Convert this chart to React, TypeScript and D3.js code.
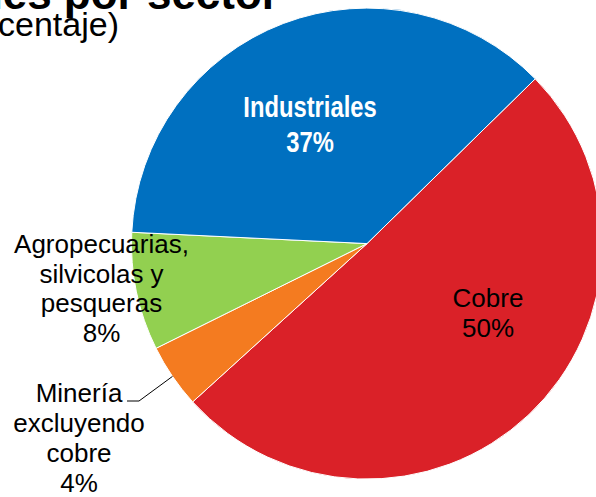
import { useEffect, useRef } from "react";
import * as d3 from "d3";

const sectors = ["Cobre", "Minería excluyendo cobre", "Agropecuarias, silvicolas y pesqueras", "Industriales"];
const shares = [50.6, 4.4, 8.1, 36.9];
const shareLabels = ["50%", "4%", "8%", "37%"];
const colors = ["#DA2128", "#F47B20", "#92D050", "#0070C0"];

export default function App() {
  const ref = useRef<SVGSVGElement>(null);

  useEffect(() => {
    const svg = d3.select(ref.current);
    svg.selectAll("*").remove();

    const width = 596;
    const height = 497;
    const cx = 367;
    const cy = 243.6;
    const r = 235.5;
    const font = "Liberation Sans, Arial, sans-serif";

    svg.attr("width", width).attr("height", height);

    const data = sectors.map((s, i) => ({ sector: s, value: shares[i], label: shareLabels[i], color: colors[i] }));

    const start = (45.6 * Math.PI) / 180;
    const pie = d3.pie<any>()
      .value(d => d.value)
      .sort(null)
      .startAngle(start)
      .endAngle(start + 2 * Math.PI);

    const arc = d3.arc<any>().innerRadius(0).outerRadius(r);
    const arcs = pie(data);

    const g = svg.append("g").attr("transform", `translate(${cx},${cy})`);

    g.selectAll("path")
      .data(arcs)
      .join("path")
      .attr("d", arc)
      .attr("fill", d => d.data.color)
      .attr("stroke", "#fff")
      .attr("stroke-width", 1);

    // title, cut off by the frame
    svg.append("text")
      .attr("x", 279)
      .attr("y", 8.5)
      .attr("text-anchor", "end")
      .attr("font-family", font)
      .attr("font-weight", "bold")
      .attr("font-size", 44)
      .text("Exportaciones por sector");

    svg.append("text")
      .attr("x", 119)
      .attr("y", 35.5)
      .attr("text-anchor", "end")
      .attr("font-family", font)
      .attr("font-size", 34)
      .text("(porcentaje)");

    // Industriales (bold, narrow)
    const ind = arcs[3];
    [[ind.data.sector, 116.7], [ind.data.label, 151.7]].forEach(([t, y]) => {
      svg.append("text")
        .attr("transform", `translate(310,${y}) scale(0.82,1)`)
        .attr("text-anchor", "middle")
        .attr("font-family", font)
        .attr("font-weight", "bold")
        .attr("font-size", 29)
        .attr("fill", "#fff")
        .text(t as string);
    });

    // Cobre
    const cob = arcs[0];
    [[cob.data.sector, 307], [cob.data.label, 337]].forEach(([t, y]) => {
      svg.append("text")
        .attr("x", 488)
        .attr("y", y as number)
        .attr("text-anchor", "middle")
        .attr("font-family", font)
        .attr("font-size", 26)
        .attr("fill", "#000")
        .text(t as string);
    });

    // Agropecuarias
    const agroLines = ["Agropecuarias,", "silvicolas y", "pesqueras", arcs[2].data.label];
    agroLines.forEach((t, i) => {
      svg.append("text")
        .attr("x", 101.5)
        .attr("y", 253 + i * 29.5)
        .attr("text-anchor", "middle")
        .attr("font-family", font)
        .attr("font-size", 26)
        .text(t);
    });

    // Minería
    const minLines = ["Minería", "excluyendo", "cobre", arcs[1].data.label];
    minLines.forEach((t, i) => {
      svg.append("text")
        .attr("x", 79)
        .attr("y", 401.7 + i * 30)
        .attr("text-anchor", "middle")
        .attr("font-family", font)
        .attr("font-size", 26)
        .text(t);
    });

    const mid = (arcs[1].startAngle + arcs[1].endAngle) / 2;
    const ex = cx + r * Math.sin(mid);
    const ey = cy - r * Math.cos(mid);
    svg.append("polyline")
      .attr("points", `127,401 139,401 ${ex},${ey}`)
      .attr("fill", "none")
      .attr("stroke", "#000")
      .attr("stroke-width", 1);
  }, []);

  return <svg ref={ref} style={{ position: "absolute", left: 0, top: 0 }}></svg>;
}
